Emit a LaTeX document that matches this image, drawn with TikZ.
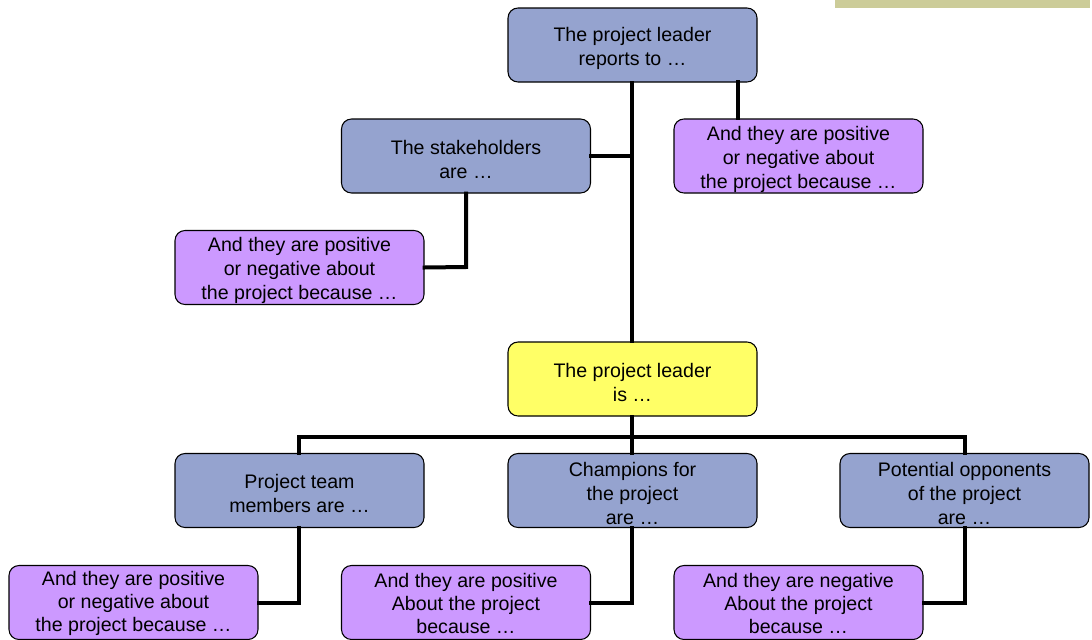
\documentclass[tikz,border=0pt]{standalone}
\usepackage{fontspec}
\setmainfont{Liberation Sans}
\definecolor{boxblue}{RGB}{149,163,207}
\definecolor{boxpurple}{RGB}{204,153,255}
\definecolor{boxyellow}{RGB}{255,255,102}
\definecolor{barolive}{RGB}{204,204,153}
\newcommand\firstlinestrut{\rule{0pt}{15.2pt}}
\newcommand\firstlinestrutlow{\rule{0pt}{12.2pt}}
\begin{document}
\begin{tikzpicture}[x=0.75pt,y=-0.75pt,
  card/.style={draw=black,line width=0.8pt,rounded corners=7.5pt,
    minimum width=186.75pt,minimum height=55.5pt,align=center,inner sep=0pt,
    font=\fontsize{14.7pt}{18pt}\selectfont},
  blu/.style={card,fill=boxblue},
  pur/.style={card,fill=boxpurple},
  purlow/.style={pur,font=\fontsize{14.7pt}{17pt}\selectfont},
  yel/.style={card,fill=boxyellow},
  link/.style={line width=3pt,line cap=rect}]
\useasboundingbox (0,0) rectangle (1092,639);
\clip (0,0) rectangle (1092,639);
\fill[barolive] (835,0) rectangle (1090,8);
\coordinate (j1) at (632,156);
\coordinate (j2) at (466,267);
\coordinate (busL) at (299,437);
\coordinate (busM) at (632,437);
\coordinate (busR) at (965,437);
\node[blu] (top) at (632.5,45) {\firstlinestrut The project leader\\reports to …};
\node[blu] (stake) at (466,156) {\firstlinestrut The stakeholders\\are …};
\node[pur] (stakeR) at (798.5,156) {\firstlinestrut And they are positive\\or negative about\\the project because …};
\node[pur] (stakeL) at (299.5,267.5) {\firstlinestrut And they are positive\\or negative about\\the project because …};
\node[yel] (lead) at (632.5,379) {\firstlinestrut The project leader\\is …};
\node[blu] (team) at (299.5,490.5) {\firstlinestrut Project team\\members are …};
\node[blu] (champ) at (632.5,490.5) {\firstlinestrut Champions for\\the project\\are …};
\node[blu] (opp) at (964.5,490.5) {\firstlinestrut Potential opponents\\of the project\\are …};
\node[purlow] (teamP) at (133.5,602.5) {\firstlinestrutlow And they are positive\\or negative about\\the project because …};
\node[purlow] (champP) at (466,602.5) {\firstlinestrutlow And they are positive\\About the project\\because …};
\node[purlow] (oppP) at (798.5,602.5) {\firstlinestrutlow And they are negative\\About the project\\because …};
\draw[link] (top.south -| j1) -- (lead.north -| j1);
\draw[link] (stake.east) -- (j1);
\draw[link] (738,82) coordinate (tr) -- (stakeR.north -| tr);
\draw[link] (stake.south) -- (j2) -- (stakeL.east);
\draw[link] (lead.south -| busM) -- (busM);
\draw[link] (busL) -- (busR);
\draw[link] (busL) -- (team.north -| busL);
\draw[link] (busM) -- (champ.north -| busM);
\draw[link] (busR) -- (opp.north -| busR);
\draw[link] (team.south -| busL) |- (teamP.east);
\draw[link] (champ.south -| busM) |- (champP.east);
\draw[link] (opp.south -| busR) |- (oppP.east);
\end{tikzpicture}
\end{document}
